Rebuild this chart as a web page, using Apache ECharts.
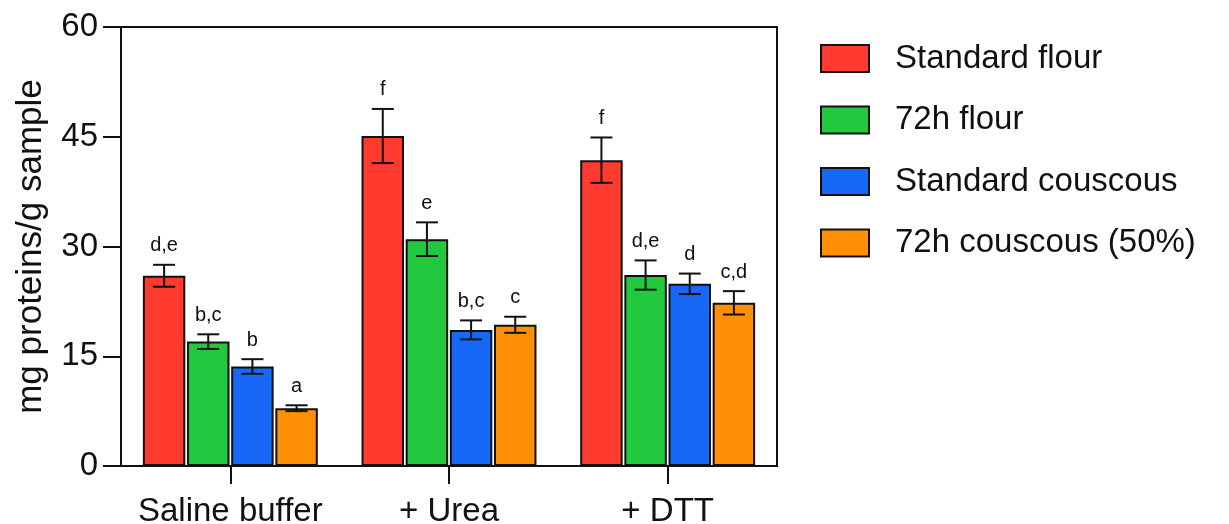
<!DOCTYPE html>
<html>
<head>
<meta charset="utf-8">
<script src="https://cdn.jsdelivr.net/npm/echarts@6/dist/echarts.min.js"></script>
<style>
html,body{margin:0;padding:0;background:#fff;}
#chart{width:1229px;height:524px;}
</style>
</head>
<body>
<div id="chart"></div>
<script>
const categories = ['Saline buffer', '+ Urea', '+ DTT'];
const seriesNames = ['Standard flour', '72h flour', 'Standard couscous', '72h couscous (50%)'];
const standardFlour = [26.0, 45.1, 41.8];
const flour72h = [17.0, 31.0, 26.1];
const standardCouscous = [13.6, 18.6, 24.9];
const couscous72h = [7.9, 19.3, 22.3];
const errStandardFlour = [1.5, 3.7, 3.1];
const errFlour72h = [1.0, 2.3, 2.0];
const errStandardCouscous = [1.0, 1.3, 1.4];
const errCouscous72h = [0.4, 1.1, 1.6];
const lettersStandardFlour = ['d,e', 'f', 'f'];
const lettersFlour72h = ['b,c', 'e', 'd,e'];
const lettersStandardCouscous = ['b', 'b,c', 'd'];
const lettersCouscous72h = ['a', 'c', 'c,d'];
const yTicks = [0, 15, 30, 45, 60];
const colors = ['#FF3A2E', '#22C93F', '#1768F6', '#FF9005'];

const means = [standardFlour, flour72h, standardCouscous, couscous72h];
const errs = [errStandardFlour, errFlour72h, errStandardCouscous, errCouscous72h];
const letters = [lettersStandardFlour, lettersFlour72h, lettersStandardCouscous, lettersCouscous72h];

const FONT = 'Liberation Sans, Arial, Helvetica, sans-serif';
const CAT_GAP = 0.2, BAR_GAP = 0.04, N = 4;

const chart = echarts.init(document.getElementById('chart'), null, {renderer: 'canvas'});

const barSeries = seriesNames.map((name, i) => ({
  name: name,
  type: 'bar',
  data: means[i],
  barGap: (BAR_GAP * 100) + '%',
  barCategoryGap: (CAT_GAP * 100) + '%',
  itemStyle: {color: colors[i], borderColor: '#111', borderWidth: 2},
  emphasis: {disabled: true},
  z: 2
}));

const errSeries = seriesNames.map((name, si) => ({
  type: 'custom',
  name: name + ' err',
  z: 5,
  silent: true,
  data: categories.map((c, k) => [k, means[si][k], errs[si][k]]),
  renderItem: function (params, api) {
    const cat = api.value(0), mean = api.value(1), err = api.value(2);
    const letter = letters[si][params.dataIndex];
    const center = api.coord([cat, mean]);
    const band = api.size([1, 0])[0];
    const groupW = band * (1 - CAT_GAP);
    const bw = groupW / (N + (N - 1) * BAR_GAP);
    const x = center[0] - groupW / 2 + si * bw * (1 + BAR_GAP) + bw / 2;
    const yTop = api.coord([cat, mean + err])[1];
    const yBot = api.coord([cat, mean - err])[1];
    const cap = 11;
    const ls = {stroke: '#111', lineWidth: 2};
    return {
      type: 'group',
      children: [
        {type: 'line', shape: {x1: x, y1: yBot, x2: x, y2: yTop}, style: ls},
        {type: 'line', shape: {x1: x - cap, y1: yTop, x2: x + cap, y2: yTop}, style: ls},
        {type: 'line', shape: {x1: x - cap, y1: yBot, x2: x + cap, y2: yBot}, style: ls},
        {type: 'text', style: {text: letter, x: x, y: yTop - 9, align: 'center', verticalAlign: 'bottom',
          fill: '#111', font: '20px ' + FONT}}
      ]
    };
  }
}));

chart.setOption({
  animation: false,
  backgroundColor: '#fff',
  textStyle: {fontFamily: FONT},
  grid: {left: 121, right: 452, top: 27, bottom: 58, show: true, borderColor: '#111', borderWidth: 2,
    containLabel: false, outerBoundsMode: 'none'},
  legend: {
    data: seriesNames,
    orient: 'vertical',
    left: 820, top: 42,
    padding: 0,
    icon: 'rect',
    itemWidth: 48, itemHeight: 27, itemGap: 28.5,
    selectedMode: false,
    textStyle: {fontSize: 33, color: '#111', fontFamily: FONT, padding: [0, 0, 0, 21]}
  },
  xAxis: {
    type: 'category',
    data: categories,
    axisLine: {lineStyle: {color: '#111', width: 2}},
    axisTick: {show: true, interval: 0, alignWithLabel: true, length: 18, lineStyle: {color: '#111', width: 2}},
    axisLabel: {interval: 0, fontSize: 33, color: '#111', margin: 29, fontFamily: FONT}
  },
  yAxis: {
    type: 'value',
    min: yTicks[0], max: yTicks[yTicks.length - 1], interval: yTicks[1] - yTicks[0],
    name: 'mg proteins/g sample',
    nameLocation: 'middle',
    nameGap: 72,
    nameTextStyle: {fontSize: 35, color: '#111', fontFamily: FONT},
    axisLine: {show: true, lineStyle: {color: '#111', width: 2}},
    axisTick: {show: true, length: 18, lineStyle: {color: '#111', width: 2}},
    splitLine: {show: false},
    axisLabel: {fontSize: 33, color: '#111', margin: 23, fontFamily: FONT}
  },
  series: barSeries.concat(errSeries)
});
</script>
</body>
</html>
